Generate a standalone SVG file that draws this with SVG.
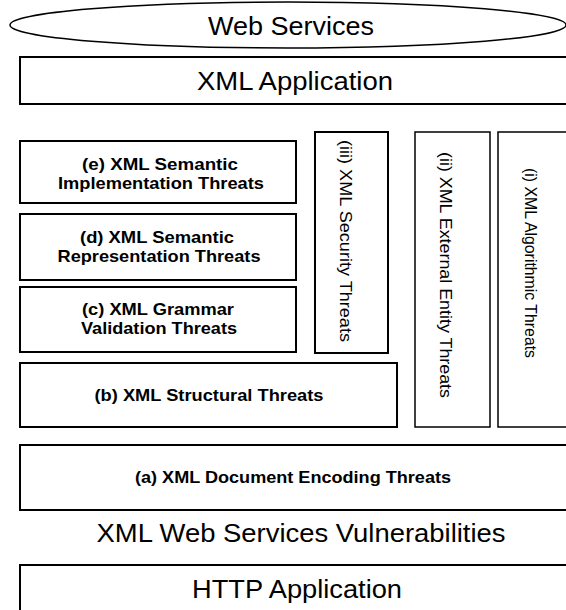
<svg xmlns="http://www.w3.org/2000/svg" width="566" height="610" viewBox="0 0 566 610">
  <style>
    .box { fill: #ffffff; stroke: #000000; stroke-width: 2; }
    .thin { fill: #ffffff; stroke: #000000; stroke-width: 1.5; }
    .big { font-family: "Liberation Sans", Arial, sans-serif; font-size: 26px; fill: #000000; text-anchor: middle; }
    .bold { font-family: "Liberation Sans", Arial, sans-serif; font-size: 16.5px; font-weight: bold; fill: #000000; text-anchor: middle; }
    .vert { font-family: "Liberation Sans", Arial, sans-serif; font-size: 17px; fill: #000000; text-anchor: middle; }
  </style>
  <rect x="0" y="0" width="566" height="610" fill="#ffffff"/>

  <g id="web-services">
    <ellipse cx="288" cy="25" rx="278" ry="23" class="thin"/>
    <text x="291" y="35" class="big" textLength="166" lengthAdjust="spacingAndGlyphs">Web Services</text>
  </g>

  <g id="xml-application">
    <rect x="20" y="57" width="560" height="47" class="box"/>
    <text x="295" y="90" class="big" textLength="196" lengthAdjust="spacingAndGlyphs">XML Application</text>
  </g>

  <g id="e-semantic-implementation">
    <rect x="20" y="141" width="276" height="62" class="box"/>
    <text x="160" y="170" class="bold" textLength="156" lengthAdjust="spacingAndGlyphs">(e) XML Semantic</text>
    <text x="161" y="189" class="bold" textLength="206" lengthAdjust="spacingAndGlyphs">Implementation Threats</text>
  </g>

  <g id="d-semantic-representation">
    <rect x="20" y="214" width="276" height="66" class="box"/>
    <text x="157" y="243" class="bold" textLength="154" lengthAdjust="spacingAndGlyphs">(d) XML Semantic</text>
    <text x="159" y="262" class="bold" textLength="203" lengthAdjust="spacingAndGlyphs">Representation Threats</text>
  </g>

  <g id="c-grammar-validation">
    <rect x="20" y="287" width="276" height="65" class="box"/>
    <text x="158" y="315" class="bold" textLength="152" lengthAdjust="spacingAndGlyphs">(c) XML Grammar</text>
    <text x="159" y="334" class="bold" textLength="156" lengthAdjust="spacingAndGlyphs">Validation Threats</text>
  </g>

  <g id="iii-security">
    <rect x="315" y="132" width="73" height="221" class="box"/>
    <text transform="translate(340,241) rotate(90)" x="0" y="0" class="vert" textLength="202" lengthAdjust="spacingAndGlyphs">(iii) XML Security Threats</text>
  </g>

  <g id="ii-external-entity">
    <rect x="415" y="132" width="75" height="295" class="thin"/>
    <text transform="translate(440,275) rotate(90)" x="0" y="0" class="vert" textLength="246" lengthAdjust="spacingAndGlyphs">(ii) XML External Entity Threats</text>
  </g>

  <g id="i-algorithmic">
    <rect x="498" y="132" width="80" height="295" class="thin"/>
    <text transform="translate(525,263) rotate(90)" x="0" y="0" class="vert" textLength="190" lengthAdjust="spacingAndGlyphs">(i) XML Algorithmic Threats</text>
  </g>

  <g id="b-structural">
    <rect x="20" y="363" width="377" height="64" class="box"/>
    <text x="209" y="401" class="bold" textLength="229" lengthAdjust="spacingAndGlyphs">(b) XML Structural Threats</text>
  </g>

  <g id="a-document-encoding">
    <rect x="20" y="445" width="560" height="65" class="box"/>
    <text x="293" y="483" class="bold" textLength="316" lengthAdjust="spacingAndGlyphs">(a) XML Document Encoding Threats</text>
  </g>

  <g id="vulnerabilities-label">
    <text x="301" y="542" class="big" textLength="409" lengthAdjust="spacingAndGlyphs">XML Web Services Vulnerabilities</text>
  </g>

  <g id="http-application">
    <rect x="20" y="565" width="560" height="60" class="box"/>
    <text x="297" y="598" class="big" textLength="210" lengthAdjust="spacingAndGlyphs">HTTP Application</text>
  </g>

  <g id="connectors"></g>
</svg>
